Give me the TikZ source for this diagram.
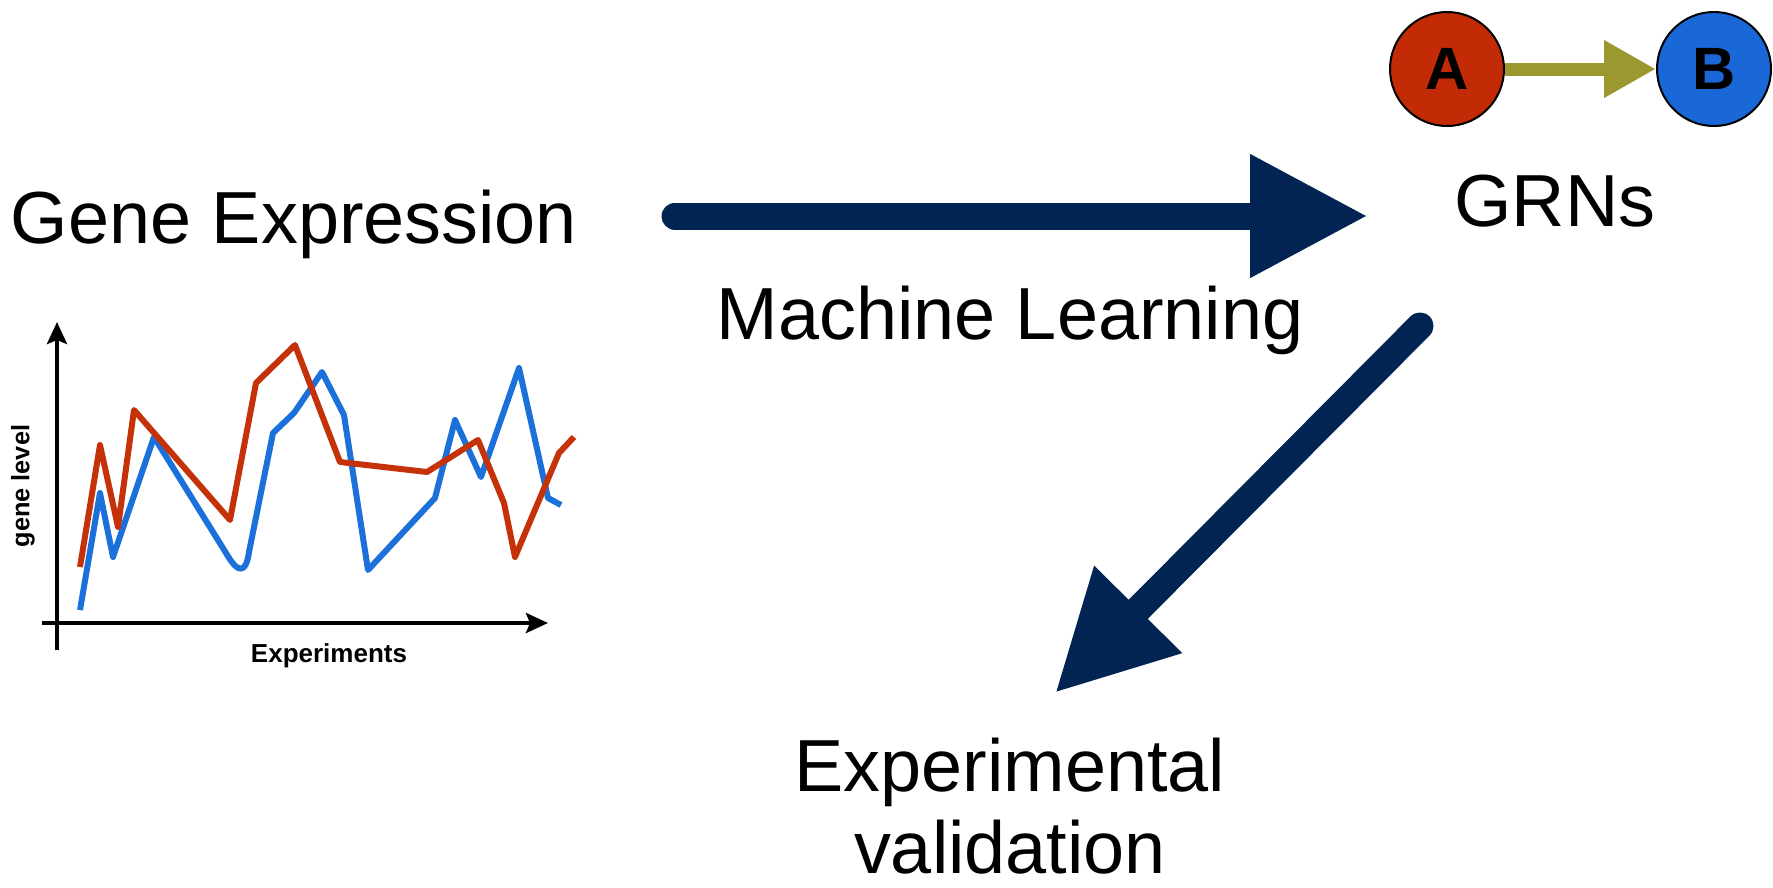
\documentclass[tikz,border=0pt]{standalone}
\usepackage{fontspec}
\setmainfont{Liberation Sans}
\usetikzlibrary{arrows.meta}
\usetikzlibrary{positioning}
\definecolor{navy}{RGB}{2,36,82}
\definecolor{redline}{RGB}{197,50,10}
\definecolor{blueline}{RGB}{28,112,218}
\definecolor{redgene}{RGB}{194,43,6}
\definecolor{bluegene}{RGB}{26,104,216}
\definecolor{olive}{RGB}{156,152,48}

\begin{document}
\begin{tikzpicture}[x=0.1mm,y=-0.1mm,
    bigtext/.style={font=\fontsize{21}{23.3}\selectfont,anchor=base,inner sep=0pt,align=center},
    brush/.style={navy,line width=2.7mm,line cap=round,-{Triangle[length=11.8mm,width=11.6mm]}},
    genenode/.style={circle,draw=black,line width=0.2mm,minimum size=11.4mm,inner sep=0pt,font=\fontsize{17}{18}\selectfont\bfseries},
    axis/.style={line width=0.4mm,-{Stealth[length=2.2mm,width=2mm,inset=0.4mm]}},
    series/.style={line width=0.6mm,line join=round}]
    \useasboundingbox (0,0) rectangle (1773,888);

    \node[bigtext] (expr) at (294,243) {Gene Expression};
    \node[bigtext] (ml) at (1010,339) {Machine Learning};
    \node[bigtext] (grn) at (1555,226) {GRNs};
    \node[bigtext] (valid) at (1010,873) {Experimental\\validation};

    \node[genenode,fill=redgene] (a) at (1447,69) {A};
    \node[genenode,fill=bluegene] (b) at (1714,69) {B};
    \draw[olive,line width=1.3mm,-{Triangle[length=5.2mm,width=5.4mm]}] (a) -- (b);

    \coordinate (mlstart) at (675,216);
    \coordinate (mlend) at (1368,216);
    \coordinate (valstart) at (1420,326);
    \coordinate (valend) at (1055,693);
    \draw[brush] (mlstart) -- (mlend);
    \draw[brush] (valstart) -- (valend);

    \draw[axis] (57,650) -- (57,322);
    \draw[axis] (42,623) -- (548,623);
    \node[font=\fontsize{7.4}{8}\selectfont\bfseries] (xlab) at (329,656) {Experiments};
    \node[rotate=90,font=\fontsize{7.2}{8}\selectfont\bfseries] (ylab) at (23,486) {gene level};

    \draw[series,blueline] (80,610) -- (100,493) -- (113,557) -- (154,437) -- (226,553)
      .. controls (238,574) and (246,574) .. (249,552) -- (273,433) -- (294,413) -- (322,372)
      -- (344,415) -- (368,570) -- (435,498) -- (455,420) -- (481,477) -- (519,368)
      -- (548,498) -- (561,505);
    \draw[series,redline] (80,567) -- (100,445) -- (118,527) -- (134,410) -- (230,520)
      -- (256,383) -- (295,345) -- (340,462) -- (427,472) -- (478,440) -- (504,503)
      -- (515,557) -- (559,453) -- (574,437);
\end{tikzpicture}
\end{document}
